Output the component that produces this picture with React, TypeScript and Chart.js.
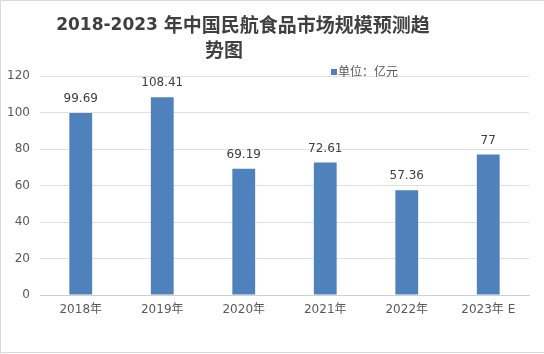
import React, { useEffect, useRef } from "react";
import { Chart, registerables } from "chart.js";

Chart.register(...registerables);

const categories = ["2018年", "2019年", "2020年", "2021年", "2022年", "2023年 E"];
const marketSize = [99.69, 108.41, 69.19, 72.61, 57.36, 77];
const seriesLabel = "单位：亿元";
const titleLine1Latin = "2018-2023 ";
const titleLine1Cjk = "年中国民航食品市场规模预测趋";
const titleLine2 = "势图";
const yMin = 0;
const yMax = 120;
const yStep = 20;

const BAR_COLOR = "#4f81bd";
const FONT = "'DejaVu Sans', 'Noto Sans CJK SC', sans-serif";

const decorPlugin = {
  id: "decor",
  beforeDraw(chart: any) {
    const ctx = chart.ctx;
    ctx.save();
    ctx.fillStyle = "#ffffff";
    ctx.fillRect(0, 0, chart.width, chart.height);
    ctx.strokeStyle = "#d9d9d9";
    ctx.lineWidth = 1;
    ctx.beginPath();
    ctx.moveTo(0.5, chart.height - 0.5);
    ctx.lineTo(0.5, 0.5);
    ctx.lineTo(chart.width, 0.5);
    ctx.moveTo(0, chart.height - 1.5);
    ctx.lineTo(chart.width, chart.height - 1.5);
    ctx.stroke();
    ctx.restore();
  },
  afterDraw(chart: any) {
    const ctx = chart.ctx;
    ctx.save();
    // title
    ctx.fillStyle = "#404040";
    ctx.textBaseline = "middle";
    ctx.textAlign = "left";
    const latinFont = "bold 17px 'DejaVu Sans', sans-serif";
    const cjkFont = "bold 19px 'Noto Sans CJK SC', sans-serif";
    ctx.font = latinFont;
    const w1 = ctx.measureText(titleLine1Latin).width;
    ctx.font = cjkFont;
    const w2 = ctx.measureText(titleLine1Cjk).width;
    const x0 = 243 - (w1 + w2) / 2;
    ctx.font = latinFont;
    ctx.fillText(titleLine1Latin, x0, 26);
    ctx.font = cjkFont;
    ctx.fillText(titleLine1Cjk, x0 + w1, 25);
    ctx.textAlign = "center";
    ctx.fillText(titleLine2, 224, 50);

    // legend
    const ds = chart.data.datasets[0];
    ctx.fillStyle = ds.backgroundColor;
    ctx.fillRect(331, 69, 6, 6);
    ctx.fillStyle = "#595959";
    ctx.textAlign = "left";
    ctx.font = "12px 'Noto Sans CJK SC', sans-serif";
    ctx.fillText(ds.label, 338, 71);
    ctx.restore();
  },
  afterDatasetsDraw(chart: any) {
    const ctx = chart.ctx;
    const meta = chart.getDatasetMeta(0);
    const data = chart.data.datasets[0].data;
    ctx.save();
    ctx.fillStyle = "#404040";
    ctx.font = "12px " + FONT;
    ctx.textAlign = "center";
    ctx.textBaseline = "middle";
    meta.data.forEach((bar: any, i: number) => {
      ctx.fillText(String(data[i]), bar.x, bar.y - 14);
    });
    ctx.restore();
  },
};

export default function App() {
  const canvasRef = useRef<HTMLCanvasElement | null>(null);

  useEffect(() => {
    if (!canvasRef.current) return;
    const chart = new Chart(canvasRef.current, {
      type: "bar",
      data: {
        labels: categories,
        datasets: [
          {
            label: seriesLabel,
            data: marketSize,
            backgroundColor: BAR_COLOR,
            barPercentage: 0.28,
            categoryPercentage: 1,
          },
        ],
      },
      options: {
        animation: false,
        responsive: false,
        maintainAspectRatio: false,
        layout: { padding: { top: 76, right: 15, left: 0, bottom: 0 } },
        plugins: {
          legend: { display: false },
          title: { display: false },
          tooltip: { enabled: false },
        },
        scales: {
          x: {
            grid: { display: false, drawTicks: false },
            border: { display: true, color: "#d0d0d0" },
            ticks: {
              color: "#595959",
              font: { family: FONT, size: 12 },
              padding: 8,
              maxRotation: 0,
            },
            afterFit: (scale: any) => {
              scale.height = 59;
            },
          },
          y: {
            min: yMin,
            max: yMax,
            grid: { color: "#e0e0e0", drawTicks: false },
            border: { display: false },
            ticks: {
              stepSize: yStep,
              color: "#595959",
              font: { family: FONT, size: 12 },
              padding: 10,
            },
            afterFit: (scale: any) => {
              scale.width = 40;
            },
          },
        },
      },
      plugins: [decorPlugin],
    });
    return () => chart.destroy();
  }, []);

  return (
    <div style={{ position: "fixed", left: 0, top: 0, width: 544, height: 354 }}>
      <canvas ref={canvasRef} width={544} height={354} style={{ display: "block" }} />
    </div>
  );
}
